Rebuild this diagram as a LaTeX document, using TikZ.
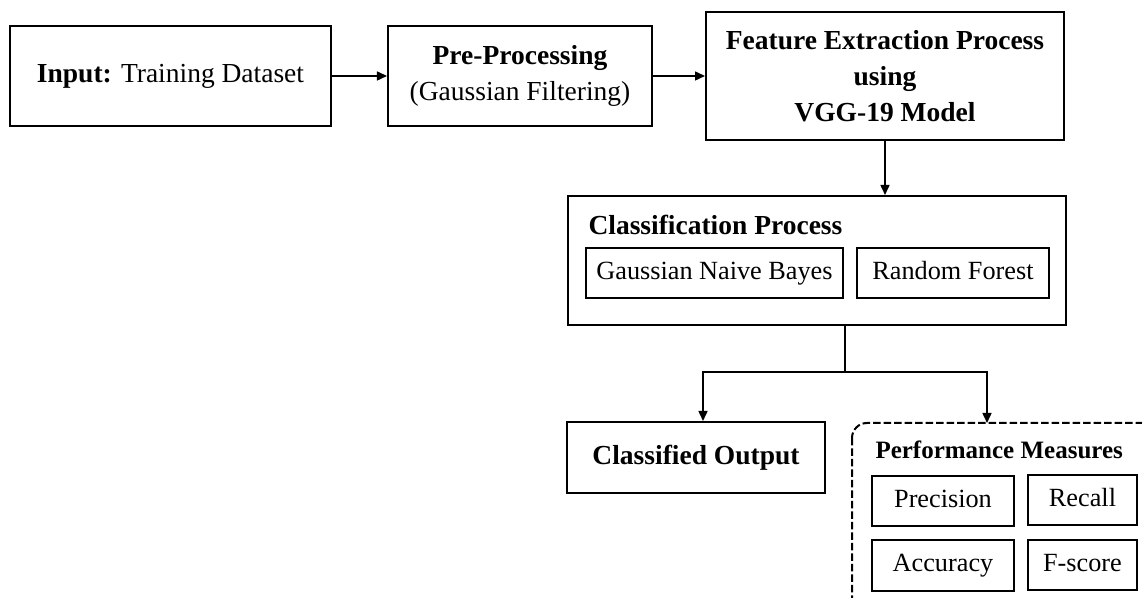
\documentclass[tikz,border=0pt]{standalone}
\usepackage{fontspec}
\setmainfont{Liberation Serif}
\usetikzlibrary{arrows.meta}
\tikzset{
  blk/.style={draw,line width=0.8pt,align=center,inner sep=0pt,font=\fontsize{11}{14.4}\selectfont},
  sub/.style={draw,line width=0.8pt,inner sep=0pt,text height=7.6pt,text depth=2.4pt,font=\fontsize{10.5}{12}\selectfont},
  arrow/.style={-{Triangle[length=4pt,width=3.6pt]},line width=0.6pt}
}
\begin{document}
\begin{tikzpicture}[x=0.4pt,y=-0.4pt]
\useasboundingbox (0,0) rectangle (1142,598);
\clip (0,0) rectangle (1142,598);

\node[blk,minimum width=128.4pt,minimum height=40pt] (input) at (170.5,76) {\textbf{Input:} Training Dataset};
\node[blk,minimum width=105.6pt,minimum height=40pt] (prep) at (520,76) {\textbf{Pre-Processing}\\(Gaussian Filtering)};
\node[blk,minimum width=143.2pt,minimum height=51.2pt,font=\bfseries\fontsize{11}{14.4}\selectfont] (feat) at (885,76) {Feature Extraction Process\\using\\VGG-19 Model};

\draw[arrow] (input) -- (prep);
\draw[arrow] (prep) -- (feat);

% classification stage
\node[draw,line width=0.8pt,minimum width=199.2pt,minimum height=51.6pt] (cls) at (817,260.5) {};
\node[anchor=west,inner sep=0pt,font=\bfseries\fontsize{11}{13}\selectfont] (clstitle) at (588,225) {Classification Process};
\node[sub,minimum width=102.8pt,minimum height=20pt] (gnb) at (714.5,273) {Gaussian Naive Bayes};
\node[sub,minimum width=76.8pt,minimum height=20pt] (rf) at (953,273) {Random Forest};
\draw[arrow] (feat) -- (feat.south |- cls.north);

% outputs
\node[blk,minimum width=103.2pt,minimum height=28.4pt,text height=8pt,text depth=2.6pt,font=\bfseries\fontsize{11}{13}\selectfont] (out) at (696,457.5) {Classified Output};
\draw[line width=0.8pt,dashed,dash pattern=on 3pt off 1.2pt,rounded corners=6pt] (852,423) rectangle (1170,630);
\node[anchor=west,inner sep=0pt,font=\bfseries\fontsize{10}{12}\selectfont] (perf) at (875,450) {Performance Measures};
\node[sub,minimum width=56.8pt,minimum height=20pt] (prec) at (943,501) {Precision};
\node[sub,minimum width=43.6pt,minimum height=20pt] (rec) at (1082.5,500) {Recall};
\node[sub,minimum width=56.8pt,minimum height=20.4pt] (acc) at (943,565.5) {Accuracy};
\node[sub,minimum width=43.6pt,minimum height=20pt] (fsc) at (1082.5,565) {F-score};

\coordinate (split) at (845,372);
\coordinate (pm) at (987,423);
\draw[line width=0.6pt] (cls.south -| split) -- (split);
\draw[arrow] (split) -| ([xshift=2.8pt]out.north);
\draw[arrow] (split) -| (pm);
\end{tikzpicture}
\end{document}
